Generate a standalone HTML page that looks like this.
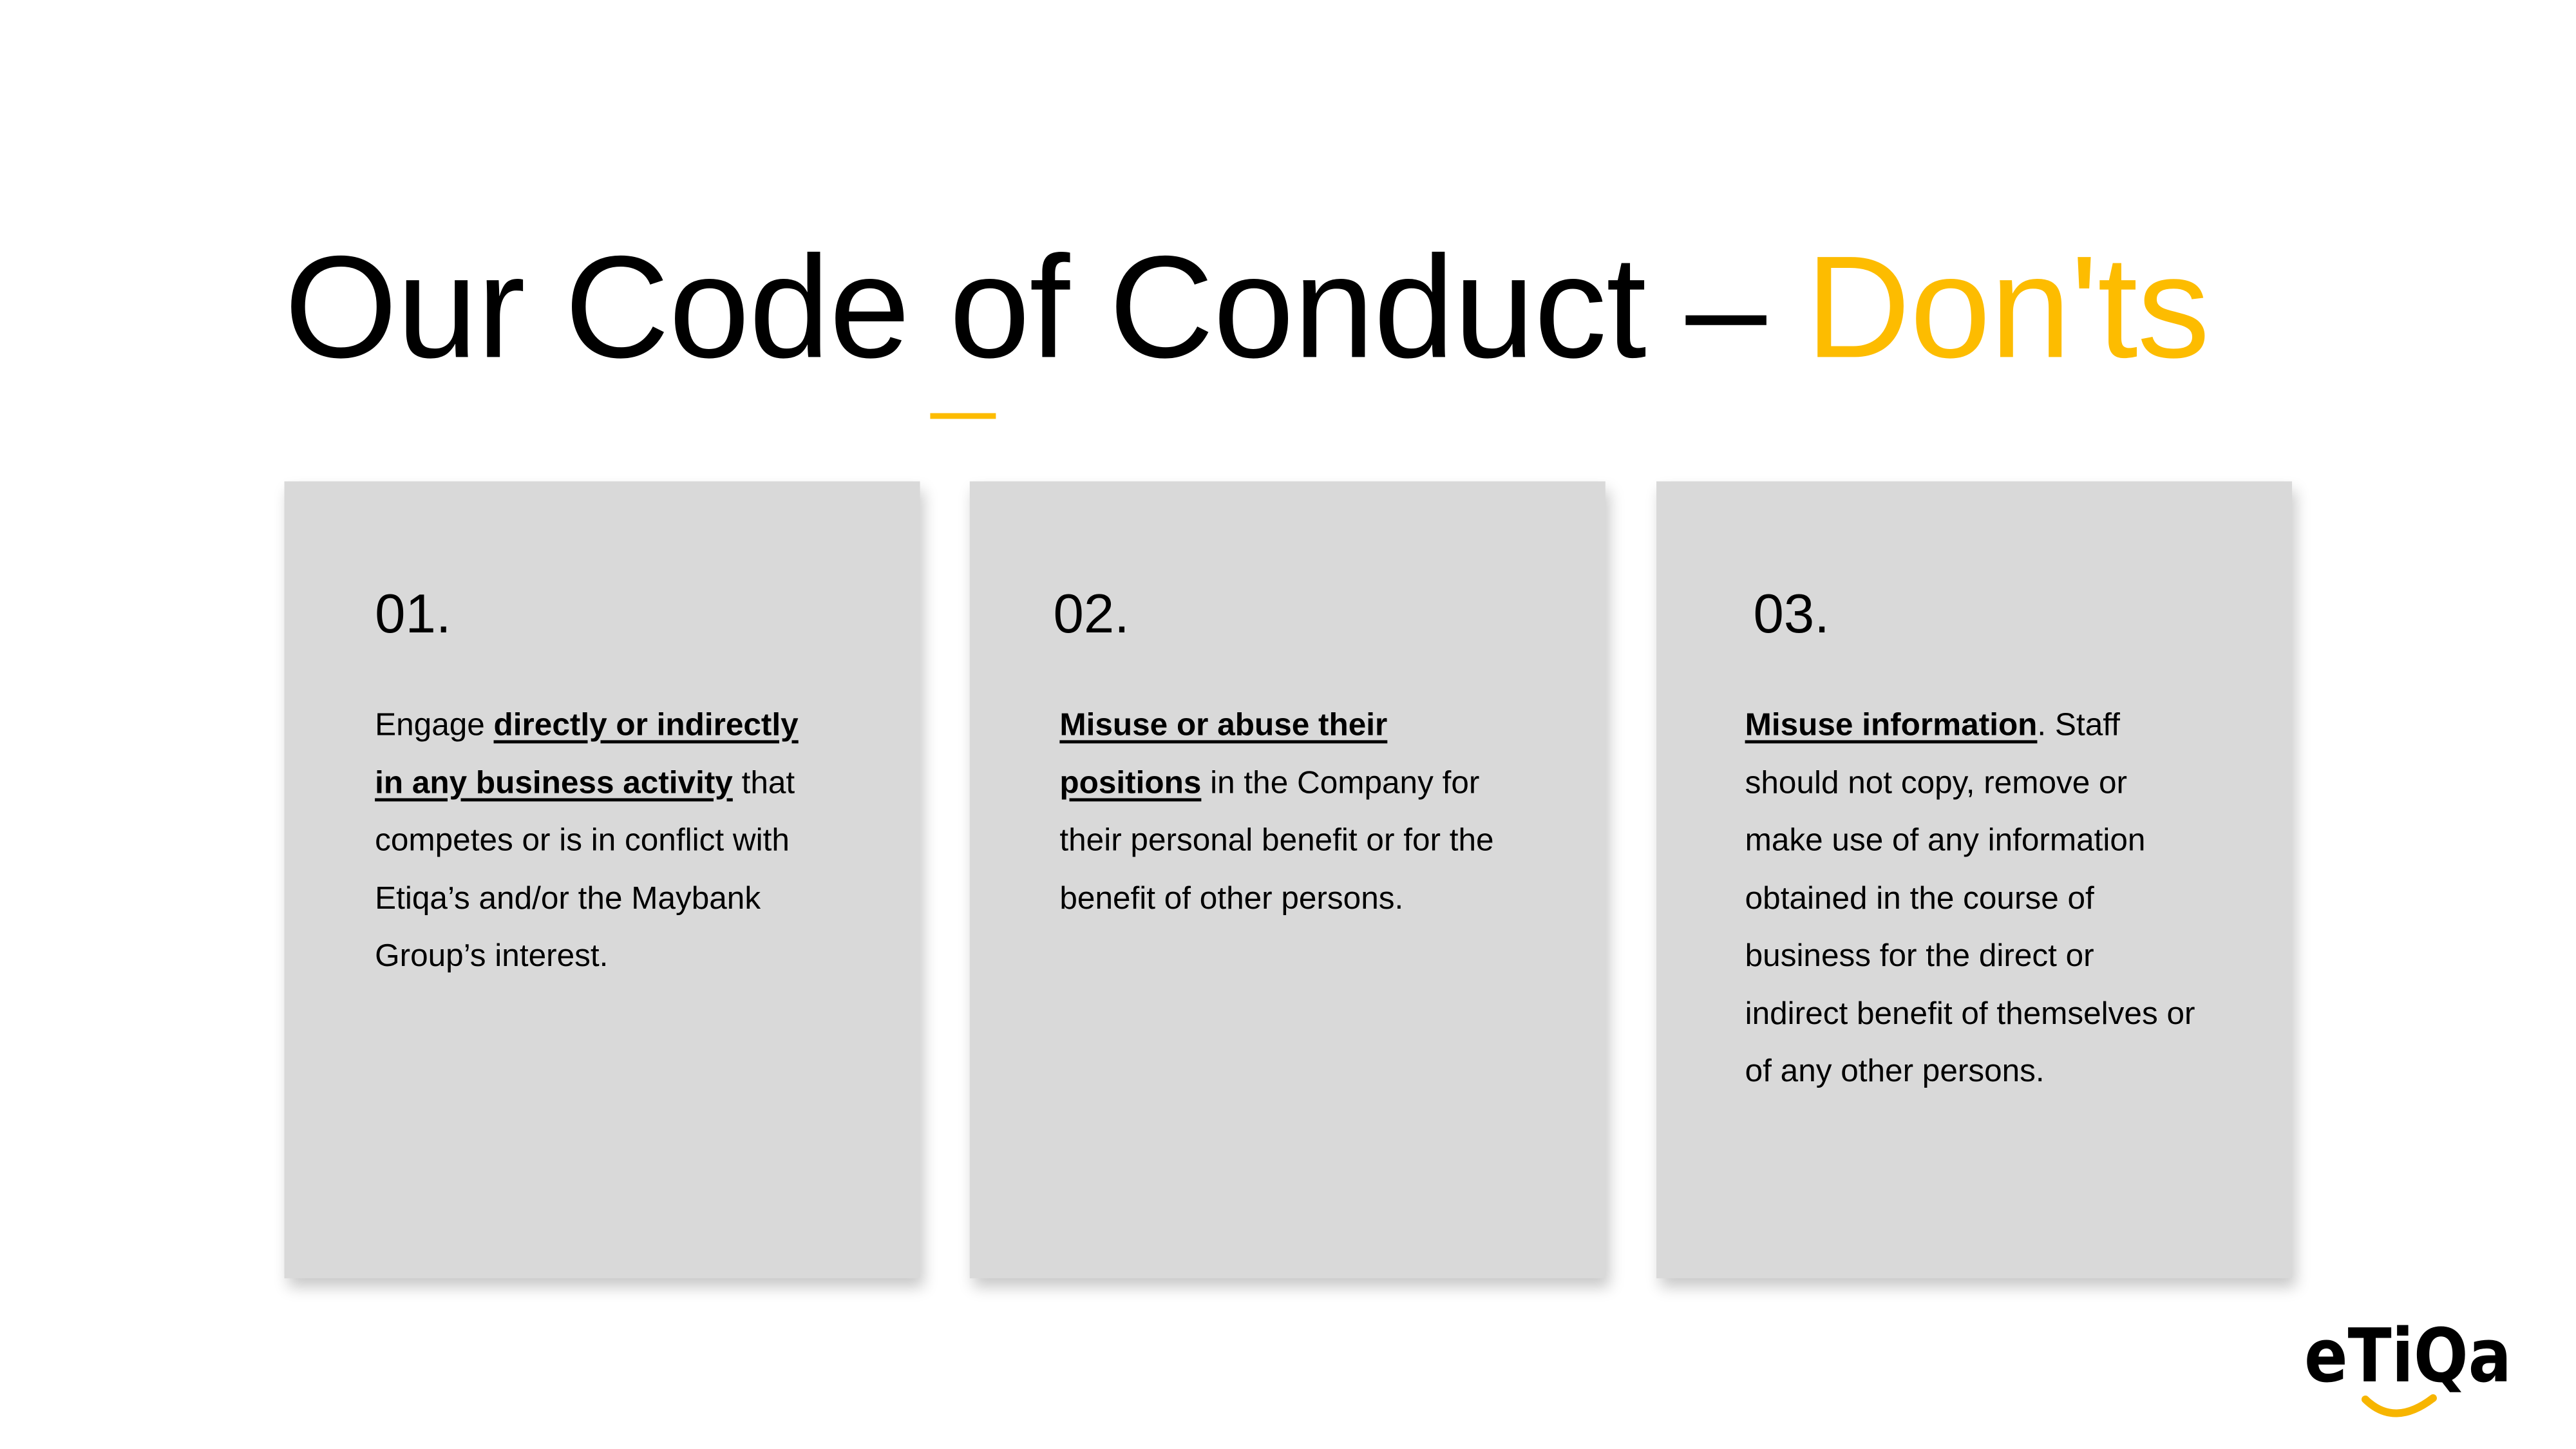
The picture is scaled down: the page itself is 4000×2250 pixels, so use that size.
<!DOCTYPE html>
<html><head><meta charset="utf-8"><style>
*{margin:0;padding:0;box-sizing:border-box}
body{width:4000px;height:2250px;background:#fff;position:relative;overflow:hidden;font-family:"Liberation Sans",Arial,sans-serif;color:#000}
.wrap{position:absolute;left:0;top:0;width:4000px;height:2250px;transform:scale(0.99);transform-origin:0 0}
.title{position:absolute;left:446px;top:368px;font-size:228px;line-height:1;white-space:nowrap;letter-spacing:-1px}
.title span{color:#fdbc00}
.bar{position:absolute;left:1459px;top:648px;width:103px;height:9px;background:#fdbc00}
.card{position:absolute;top:755px;width:997px;height:1250px;background:#d9d9d9;box-shadow:6px 14px 22px rgba(0,0,0,0.22)}
.num{position:absolute;top:165px;font-size:86px;line-height:1;white-space:nowrap}
.body{position:absolute;top:336px;font-size:50px;line-height:90.5px;white-space:nowrap}
.body b{text-decoration:underline;text-decoration-thickness:5px;text-underline-offset:8px}
.logo{position:absolute;left:3578px;top:2045px;width:330px;height:170px}
</style></head><body>
<div class="wrap">
<div class="title">Our Code of Conduct – <span>Don'ts</span></div>
<div class="bar"></div>

<div class="card" style="left:446px">
<div class="num" style="left:142px">01.</div>
<div class="body" style="left:142px">Engage <b>directly or indirectly</b><br><b>in any business activity</b> that<br>competes or is in conflict with<br>Etiqa’s and/or the Maybank<br>Group’s interest.</div>
</div>

<div class="card" style="left:1521px">
<div class="num" style="left:131px">02.</div>
<div class="body" style="left:141px"><b>Misuse or abuse their</b><br><b>positions</b> in the Company for<br>their personal benefit or for the<br>benefit of other persons.</div>
</div>

<div class="card" style="left:2598px">
<div class="num" style="left:152px">03.</div>
<div class="body" style="left:139px"><b>Misuse information</b>. Staff<br>should not copy, remove or<br>make use of any information<br>obtained in the course of<br>business for the direct or<br>indirect benefit of themselves or<br>of any other persons.</div>
</div>
</div>

<svg class="logo" viewBox="0 0 330 170">
<text x="0" y="100" font-family="DejaVu Sans, sans-serif" font-weight="bold" font-size="115" textLength="322" lengthAdjust="spacingAndGlyphs" fill="#000">eTiQa</text>
<path d="M95 128 Q140 172 200 126" stroke="#f7b500" stroke-width="12" fill="none" stroke-linecap="round"/>
</svg>
</body></html>
